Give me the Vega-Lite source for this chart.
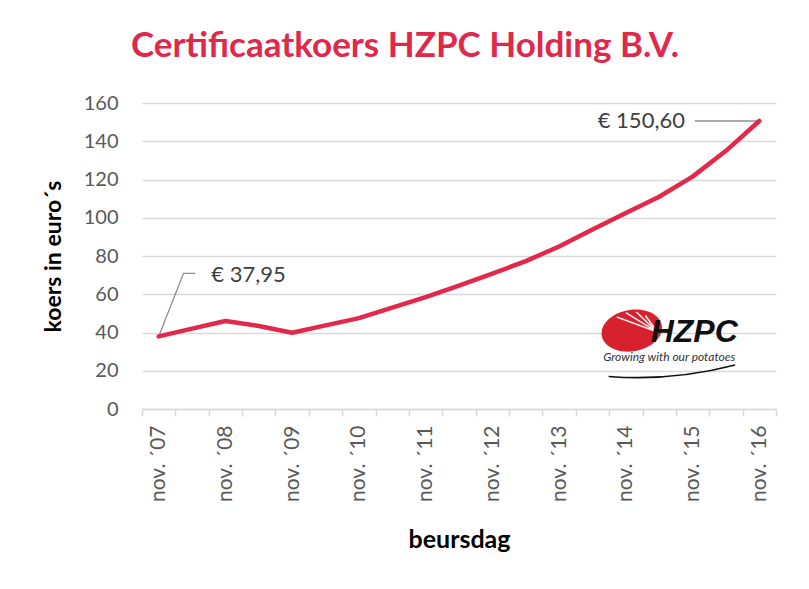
{
  "$schema": "https://vega.github.io/schema/vega-lite/v6.json",
  "width": 634,
  "height": 306,
  "autosize": "none",
  "padding": {"left": 142, "top": 103, "right": 33, "bottom": 180},
  "background": "white",
  "title": {
    "text": "Certificaatkoers HZPC Holding B.V.",
    "font": "Lato",
    "fontSize": 35,
    "fontWeight": "bold",
    "color": "#E0284A",
    "anchor": "middle",
    "dx": -54,
    "offset": 29
  },
  "datasets": {
    "price": [
      {"i": 0, "koers": 37.95},
      {"i": 1, "koers": 42.0},
      {"i": 2, "koers": 46.0},
      {"i": 3, "koers": 43.4},
      {"i": 4, "koers": 39.9},
      {"i": 5, "koers": 43.7},
      {"i": 6, "koers": 47.5},
      {"i": 7, "koers": 53.0},
      {"i": 8, "koers": 58.5},
      {"i": 9, "koers": 64.5},
      {"i": 10, "koers": 70.8},
      {"i": 11, "koers": 77.3},
      {"i": 12, "koers": 85.0},
      {"i": 13, "koers": 93.8},
      {"i": 14, "koers": 102.5},
      {"i": 15, "koers": 111.0},
      {"i": 16, "koers": 121.5},
      {"i": 17, "koers": 135.0},
      {"i": 18, "koers": 150.6}
    ],
    "leaders": [
      {"g": "a", "order": 1, "i": 0, "koers": 37.95},
      {"g": "a", "order": 2, "i": 0.745, "koers": 70.95},
      {"g": "a", "order": 3, "i": 1.096, "koers": 70.95},
      {"g": "b", "order": 1, "i": 16.07, "koers": 150.6},
      {"g": "b", "order": 2, "i": 18, "koers": 150.6}
    ],
    "labels": [
      {"side": "left", "i": 1.575, "koers": 70.2, "label": "€ 37,95"},
      {"side": "right", "i": 15.77, "koers": 150.5, "label": "€ 150,60"}
    ],
    "logo": [
      {"part": "ellipse", "i": 14.18, "koers": 41.0},
      {"part": "rays", "i": 14.18, "koers": 41.0},
      {"part": "swoosh", "i": 15.38, "koers": 19.0}
    ],
    "logotext": [
      {"part": "name", "i": 16.05, "koers": 40.3, "label": "HZPC"},
      {"part": "tag", "i": 15.3, "koers": 27.2, "label": "Growing with our potatoes"}
    ]
  },
  "encoding": {
    "x": {
      "field": "i",
      "type": "quantitative",
      "scale": {"domain": [-0.5, 18.5], "nice": false, "zero": false},
      "axis": {
        "title": "beursdag",
        "titleFont": "Lato",
        "titleFontSize": 25,
        "titleFontWeight": "bold",
        "titleColor": "#000000",
        "titlePadding": 26,
        "values": [-0.5, 0.5, 1.5, 2.5, 3.5, 4.5, 5.5, 6.5, 7.5, 8.5, 9.5, 10.5, 11.5, 12.5, 13.5, 14.5, 15.5, 16.5, 17.5, 18.5],
        "labelExpr": "(datum.value + 0.5) % 2 == 0 ? 'nov. ´' + (((datum.value + 0.5) / 2 + 7) < 10 ? '0' : '') + ((datum.value + 0.5) / 2 + 7) : ''",
        "labelOffset": 16.7,
        "labelAngle": -90,
        "labelFont": "Lato",
        "labelFontSize": 21,
        "labelColor": "#595959",
        "labelPadding": 9,
        "labelOverlap": false,
        "labelFlush": false,
        "labelBound": false,
        "grid": false,
        "domainColor": "#D9D9D9",
        "domainWidth": 1.5,
        "tickColor": "#D9D9D9",
        "tickWidth": 1.5,
        "tickSize": 7
      }
    },
    "y": {
      "field": "koers",
      "type": "quantitative",
      "scale": {"domain": [0, 160], "nice": false},
      "axis": {
        "title": "koers in euro´s",
        "titleFont": "Lato",
        "titleFontSize": 23,
        "titleFontWeight": "bold",
        "titleColor": "#000000",
        "titlePadding": 18,
        "values": [0, 20, 40, 60, 80, 100, 120, 140, 160],
        "labelFont": "Lato",
        "labelFontSize": 20,
        "labelColor": "#595959",
        "labelPadding": 24,
        "grid": true,
        "gridColor": "#D9D9D9",
        "gridWidth": 1.5,
        "domain": false,
        "ticks": false
      }
    }
  },
  "layer": [
    {
      "data": {"name": "leaders"},
      "mark": {"type": "line", "color": "#8C8C8C", "strokeWidth": 1.3},
      "encoding": {"detail": {"field": "g"}, "order": {"field": "order"}}
    },
    {
      "data": {"name": "price"},
      "mark": {"type": "line", "color": "#E3294B", "strokeWidth": 4.5, "strokeJoin": "round", "strokeCap": "round"}
    },
    {
      "data": {"name": "labels"},
      "transform": [{"filter": "datum.side == 'left'"}],
      "mark": {"type": "text", "align": "left", "baseline": "middle", "font": "Lato", "fontSize": 22, "color": "#404040"},
      "encoding": {"text": {"field": "label"}}
    },
    {
      "data": {"name": "labels"},
      "transform": [{"filter": "datum.side == 'right'"}],
      "mark": {"type": "text", "align": "right", "baseline": "middle", "font": "Lato", "fontSize": 22, "color": "#404040"},
      "encoding": {"text": {"field": "label"}}
    },
    {
      "data": {"name": "logo"},
      "transform": [{"filter": "datum.part == 'ellipse'"}],
      "mark": {"type": "point", "shape": "M -1 0 A 1 0.68 -10 1 1 1 0 A 1 0.68 -10 1 1 -1 0 Z", "size": 3600, "filled": true, "color": "#D7212E", "opacity": 1}
    },
    {
      "data": {"name": "logo"},
      "transform": [{"filter": "datum.part == 'rays'"}],
      "mark": {"type": "point", "shape": "M 0.85 0.05 L -0.5 -0.45 M 0.85 0.05 L -0.2 -0.6 M 0.85 0.05 L 0.15 -0.62 M 0.85 0.05 L 0.45 -0.5", "size": 3600, "filled": false, "color": "#FFFFFF", "strokeWidth": 1.6, "opacity": 0.9}
    },
    {
      "data": {"name": "logo"},
      "transform": [{"filter": "datum.part == 'swoosh'"}],
      "mark": {"type": "point", "shape": "M -1 0.06 Q 0 0.14 1 -0.12", "size": 16000, "filled": false, "color": "#111111", "strokeWidth": 1.6, "opacity": 1}
    },
    {
      "data": {"name": "logotext"},
      "transform": [{"filter": "datum.part == 'name'"}],
      "mark": {"type": "text", "align": "center", "baseline": "middle", "font": "Liberation Sans", "fontSize": 32, "fontWeight": "bold", "fontStyle": "italic", "color": "#111111"},
      "encoding": {"text": {"field": "label"}}
    },
    {
      "data": {"name": "logotext"},
      "transform": [{"filter": "datum.part == 'tag'"}],
      "mark": {"type": "text", "align": "center", "baseline": "middle", "font": "Lato", "fontSize": 12, "fontStyle": "italic", "color": "#333333"},
      "encoding": {"text": {"field": "label"}}
    }
  ],
  "config": {"view": {"stroke": null}}
}
